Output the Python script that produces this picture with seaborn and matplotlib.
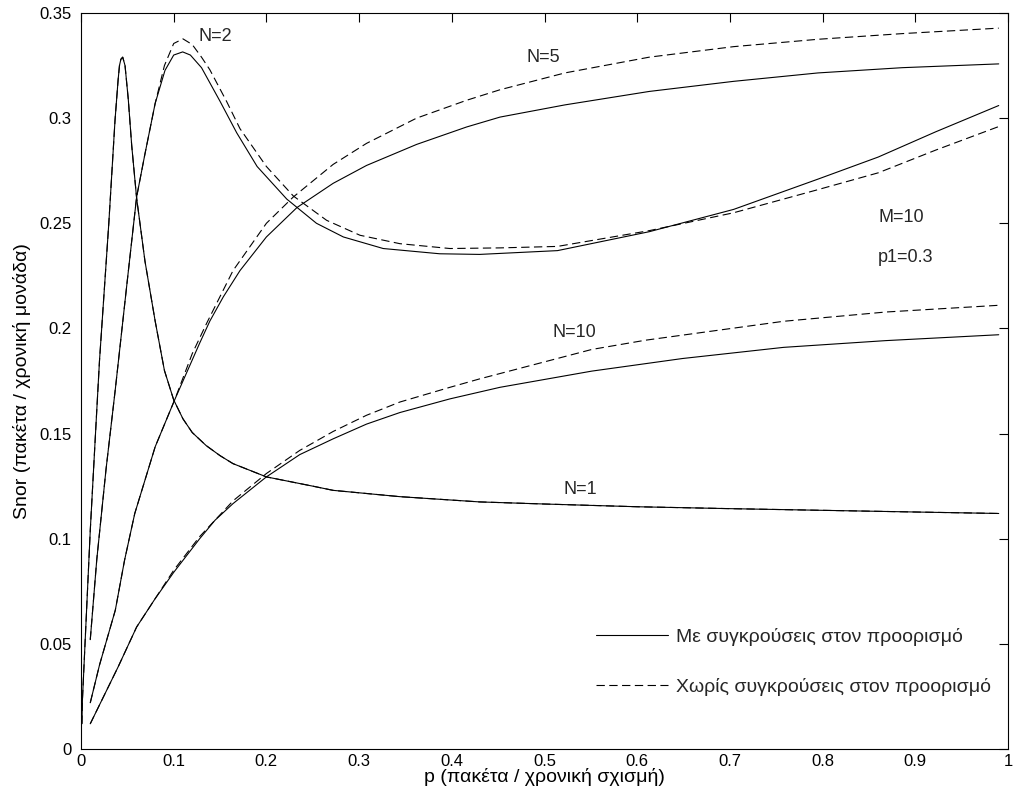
import matplotlib
matplotlib.use("Agg")
import matplotlib.pyplot as plt
from matplotlib.lines import Line2D
import pandas as pd
import seaborn as sns

# ---- throughput curves, M=10 stations, p1=0.3 ----
# N=1 (identical with and without destination collisions)
n1_p = [0.001, 0.0015, 0.010, 0.017, 0.020, 0.030, 0.0367, 0.040, 0.0415, 0.043,
        0.045, 0.0475, 0.051, 0.0547, 0.060, 0.069, 0.080, 0.090, 0.100, 0.110,
        0.120, 0.135, 0.150, 0.164, 0.200, 0.250, 0.272, 0.344, 0.430, 0.500,
        0.600, 0.700, 0.800, 0.900, 0.990]
n1_s = [0.012, 0.023, 0.104, 0.161, 0.185, 0.250, 0.299, 0.318, 0.325, 0.328,
        0.329, 0.325, 0.309, 0.287, 0.262, 0.232, 0.2035, 0.180, 0.166, 0.157,
        0.1505, 0.1443, 0.1395, 0.1357, 0.1294, 0.125, 0.123, 0.120, 0.1175, 0.1165,
        0.1152, 0.1143, 0.1135, 0.1127, 0.112]

# N=2
n2_p_with = [0.010, 0.017, 0.027, 0.037, 0.050, 0.060, 0.069, 0.080, 0.0906, 0.100,
             0.1097, 0.118, 0.130, 0.150, 0.168, 0.190, 0.222, 0.254, 0.283, 0.326,
             0.387, 0.430, 0.514, 0.613, 0.704, 0.795, 0.860, 0.922, 0.990]
n2_s_with = [0.052, 0.090, 0.133, 0.171, 0.223, 0.2625, 0.283, 0.307, 0.3227, 0.330,
             0.3315, 0.330, 0.324, 0.308, 0.293, 0.277, 0.2615, 0.250, 0.2435, 0.238,
             0.2355, 0.2352, 0.237, 0.246, 0.2566, 0.271, 0.2815, 0.2935, 0.306]
n2_p_without = [0.010, 0.017, 0.027, 0.037, 0.050, 0.060, 0.069, 0.080, 0.090, 0.100,
                0.110, 0.120, 0.130, 0.139, 0.157, 0.1715, 0.200, 0.229, 0.265, 0.301,
                0.344, 0.398, 0.452, 0.514, 0.613, 0.704, 0.795, 0.860, 0.922, 0.990]
n2_s_without = [0.052, 0.090, 0.133, 0.171, 0.223, 0.2625, 0.283, 0.307, 0.325, 0.3355,
                0.3377, 0.335, 0.329, 0.323, 0.308, 0.295, 0.277, 0.263, 0.2514, 0.2443,
                0.2403, 0.238, 0.2383, 0.239, 0.2465, 0.255, 0.266, 0.274, 0.2848, 0.296]

# N=5
n5_p_with = [0.010, 0.020, 0.037, 0.047, 0.058, 0.080, 0.101, 0.128, 0.139, 0.1535,
             0.1715, 0.200, 0.233, 0.272, 0.308, 0.362, 0.416, 0.452, 0.522, 0.613,
             0.704, 0.795, 0.886, 0.990]
n5_s_with = [0.022, 0.040, 0.066, 0.0898, 0.112, 0.1437, 0.166, 0.193, 0.2035, 0.215,
             0.2275, 0.2435, 0.2575, 0.269, 0.2775, 0.2875, 0.2958, 0.3005, 0.3063, 0.3127,
             0.3175, 0.3215, 0.324, 0.3258]
n5_p_without = [0.010, 0.020, 0.037, 0.047, 0.058, 0.080, 0.101, 0.120, 0.1356, 0.164,
                0.200, 0.229, 0.272, 0.308, 0.362, 0.416, 0.452, 0.522, 0.613, 0.704,
                0.795, 0.886, 0.990]
n5_s_without = [0.022, 0.040, 0.066, 0.0898, 0.112, 0.1437, 0.166, 0.188, 0.2025, 0.2275,
                0.250, 0.2625, 0.278, 0.288, 0.300, 0.3085, 0.3135, 0.3215, 0.329, 0.334,
                0.3375, 0.3402, 0.3428]

# N=10
n10_p_with = [0.010, 0.030, 0.040, 0.060, 0.080, 0.100, 0.128, 0.1446, 0.164, 0.200,
              0.236, 0.272, 0.308, 0.344, 0.398, 0.452, 0.551, 0.649, 0.758, 0.868,
              0.990]
n10_s_with = [0.012, 0.030, 0.039, 0.058, 0.0715, 0.084, 0.100, 0.1088, 0.1167, 0.1294,
              0.140, 0.1475, 0.1545, 0.160, 0.1665, 0.172, 0.1797, 0.1857, 0.191, 0.1942,
              0.197]
n10_p_without = [0.010, 0.030, 0.040, 0.060, 0.080, 0.100, 0.128, 0.164, 0.200, 0.236,
                 0.272, 0.308, 0.344, 0.398, 0.430, 0.551, 0.609, 0.758, 0.868, 0.990]
n10_s_without = [0.012, 0.030, 0.039, 0.058, 0.0715, 0.085, 0.101, 0.118, 0.131, 0.142,
                 0.151, 0.1587, 0.165, 0.172, 0.176, 0.190, 0.1944, 0.2034, 0.2078, 0.211]

model_labels = ["Με συγκρούσεις στον προορισμό", "Χωρίς συγκρούσεις στον προορισμό"]
x_ticks = [0, 0.1, 0.2, 0.3, 0.4, 0.5, 0.6, 0.7, 0.8, 0.9, 1]
x_tick_labels = ["0", "0.1", "0.2", "0.3", "0.4", "0.5", "0.6", "0.7", "0.8", "0.9", "1"]
y_ticks = [0, 0.05, 0.1, 0.15, 0.2, 0.25, 0.3, 0.35]
y_tick_labels = ["0", "0.05", "0.1", "0.15", "0.2", "0.25", "0.3", "0.35"]

series = [
    ("N=1", "with", n1_p, n1_s),
    ("N=1", "without", n1_p, n1_s),
    ("N=2", "with", n2_p_with, n2_s_with),
    ("N=2", "without", n2_p_without, n2_s_without),
    ("N=5", "with", n5_p_with, n5_s_with),
    ("N=5", "without", n5_p_without, n5_s_without),
    ("N=10", "with", n10_p_with, n10_s_with),
    ("N=10", "without", n10_p_without, n10_s_without),
]
frames = [pd.DataFrame({"p": ps, "S": ss, "N": n, "model": m}) for n, m, ps, ss in series]
df = pd.concat(frames, ignore_index=True)

sns.set_theme(style="white")
plt.rcParams["font.family"] = ["Liberation Sans", "DejaVu Sans"]

W, H = 1014, 800
fig = plt.figure(figsize=(W / 100, H / 100), dpi=100)
ax = fig.add_axes([81 / W, 1 - 749 / H, (1008 - 81) / W, (749 - 13) / H])

dash_pattern = (7.5, 4)
sns.lineplot(data=df, x="p", y="S", units="N", style="model", estimator=None,
             sort=False, color="black", linewidth=0.8,
             dashes={"with": "", "without": dash_pattern}, legend=False, ax=ax)

ax.set_xlim(0, 1)
ax.set_ylim(0, 0.35)
ax.set_xticks(x_ticks)
ax.set_xticklabels(x_tick_labels)
ax.set_yticks(y_ticks)
ax.set_yticklabels(y_tick_labels)
ax.tick_params(direction="in", top=True, right=True, length=6.5, width=0.8,
               labelsize=12, colors="black")
ax.tick_params(axis="x", pad=3.5)
ax.tick_params(axis="y", pad=7)
for sp in ax.spines.values():
    sp.set_color("black")
    sp.set_linewidth(0.8)

ax.set_xlabel("p (πακέτα / χρονική σχισμή)", fontsize=14, color="black")
ax.set_ylabel("Snor (πακέτα / χρονική μονάδα)", fontsize=14, color="black")
ax.xaxis.set_label_coords(0.5, -0.026)
ax.yaxis.set_label_coords(-0.054, 0.5)

# curve annotations
ax.text(0.145, 0.3386, "N=2", fontsize=13, ha="center", va="center")
ax.text(0.499, 0.329, "N=5", fontsize=13, ha="center", va="center")
ax.text(0.532, 0.198, "N=10", fontsize=13, ha="center", va="center")
ax.text(0.539, 0.1236, "N=1", fontsize=13, ha="center", va="center")
ax.text(0.860, 0.2526, "M=10", fontsize=13, ha="left", va="center")
ax.text(0.860, 0.2337, "p1=0.3", fontsize=13, ha="left", va="center")

handles = [Line2D([], [], color="black", linewidth=0.8),
           Line2D([], [], color="black", linewidth=0.8, dashes=dash_pattern)]
leg = ax.legend(handles, model_labels, loc="upper left",
                bbox_to_anchor=((601 - 81) / 927 - 0.012, (749 - 622) / 736),
                frameon=True, fontsize=14, handlelength=3.7, handletextpad=0.45,
                labelspacing=1.65, borderpad=0.3, borderaxespad=0.0)
leg.get_frame().set_facecolor("white")
leg.get_frame().set_edgecolor("white")
leg.get_frame().set_linewidth(0)

fig.savefig("out.png", dpi=100, facecolor="white")
